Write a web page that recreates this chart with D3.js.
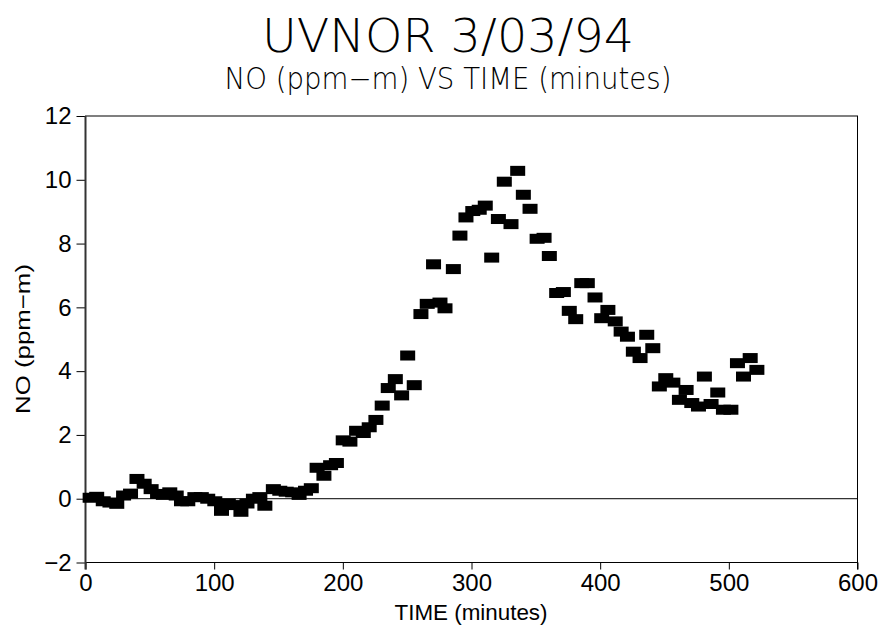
<!DOCTYPE html>
<html>
<head>
<meta charset="utf-8">
<script src="https://cdn.jsdelivr.net/npm/d3@7"></script>
<style>
    body { margin: 0; background: #fff; }
    text { font-family: "DejaVu Sans", sans-serif; fill: #000; }
    .tick text { font-family: "Liberation Sans", Arial, sans-serif; }
    .axis-title { font-family: "Liberation Sans", Arial, sans-serif; }
</style>
</head>
<body>
<div id="chart"></div>
<script>
// time in minutes and NO in ppm-m
var times = [3.6, 8.7, 13.8, 19, 24.3, 29.6, 35, 40, 45.6, 51, 56, 60.5, 65.5, 70.5, 74.6, 79.5,
    85, 90, 95, 100.5, 105.7, 111, 116, 120.8, 125.5, 130.5, 135.5, 139.4, 146, 151, 156, 161,
    166, 171, 175.5, 180, 185.3, 190.5, 195, 200.3, 205.5, 210.7, 215.9, 220.5, 225.7, 230.6,
    235.3, 240.8, 245.7, 250.4, 255.5, 260.7, 265.6, 270.5, 275.5, 279.4, 285.9, 291, 295.7,
    301, 306, 310.7, 315.7, 320.9, 325.5, 330.7, 335.9, 340.3, 345.5, 351, 356.4, 360.5, 366.2,
    371.4, 376, 381, 385.7, 390, 396, 401.2, 406, 411.7, 416.3, 421.2, 425.8, 431, 436.2, 440.9,
    446, 451, 456.5, 461.6, 466.8, 471.2, 476.4, 481, 486.2, 491.4, 495.8, 501.6, 506.7, 511.4,
    516.6, 521.8];
var noValues = [0.03, 0.06, -0.08, -0.12, -0.16, 0.1, 0.16, 0.62, 0.47, 0.3, 0.15, 0.12, 0.2, 0.1,
    -0.08, -0.08, 0.05, 0.05, 0.0, -0.08, -0.38, -0.15, -0.2, -0.41, -0.15, 0.0, 0.05, -0.22, 0.3,
    0.25, 0.22, 0.2, 0.12, 0.25, 0.33, 0.97, 0.72, 1.05, 1.12, 1.83, 1.79, 2.13, 2.06, 2.24, 2.47,
    2.92, 3.47, 3.75, 3.24, 4.49, 3.56, 5.79, 6.11, 7.35, 6.15, 5.97, 7.2, 8.25, 8.82, 9.02, 9.06,
    9.19, 7.56, 8.77, 9.94, 8.61, 10.28, 9.53, 9.09, 8.15, 8.18, 7.61, 6.45, 6.48, 5.89, 5.63, 6.76,
    6.76, 6.31, 5.66, 5.92, 5.56, 5.24, 5.08, 4.61, 4.41, 5.14, 4.72, 3.52, 3.78, 3.64, 3.1, 3.41,
    3.0, 2.89, 3.83, 2.97, 3.33, 2.79, 2.79, 4.25, 3.83, 4.41, 4.04];

var xTicks = [0, 100, 200, 300, 400, 500, 600];
var yTicks = [-2, 0, 2, 4, 6, 8, 10, 12];

var chartTitle = "UVNOR 3/03/94";
var chartSubtitle = "NO (ppm\u2212m) VS TIME (minutes)";
var xTitle = "TIME (minutes)";
var yTitle = "NO (ppm\u2212m)";

var margin = {top: 116, right: 27.5, bottom: 68.5, left: 85.5};
var width = 885 - margin.left - margin.right;
var height = 631 - margin.top - margin.bottom;

var svg = d3.select("#chart")
    .append("svg")
    .attr("width", 885)
    .attr("height", 631);

var g = svg.append("g")
    .attr("transform", "translate(" + margin.left + "," + margin.top + ")");

var x = d3.scaleLinear().domain([0, 600]).range([0, width]);
var y = d3.scaleLinear().domain([-2, 12]).range([height, 0]);

// frame
g.append("rect")
    .attr("x", 0).attr("y", 0)
    .attr("width", width).attr("height", height)
    .attr("fill", "none")
    .attr("stroke", "#000")
    .attr("stroke-width", 1);

// zero line
g.append("line")
    .attr("x1", 0).attr("x2", width)
    .attr("y1", y(0)).attr("y2", y(0))
    .attr("stroke", "#000")
    .attr("stroke-width", 1);

var xAxis = g.append("g")
    .attr("transform", "translate(0," + height + ")")
    .call(d3.axisBottom(x).tickValues(xTicks).tickSize(7).tickPadding(4).tickFormat(d3.format("d")));

var yAxis = g.append("g")
    .call(d3.axisLeft(y).tickValues(yTicks).tickSize(9).tickPadding(5).tickFormat(function (d) {
        return d < 0 ? "\u2212" + Math.abs(d) : d;
    }));

[xAxis, yAxis].forEach(function (ax) {
    ax.select(".domain").remove();
    ax.selectAll(".tick line").attr("stroke", "#000");
    ax.selectAll(".tick text").style("font-size", "24px").attr("fill", "#000");
});

// left axis line is drawn a bit heavier
g.append("line")
    .attr("x1", 0).attr("x2", 0)
    .attr("y1", 0).attr("y2", height + 7)
    .attr("stroke", "#333")
    .attr("stroke-width", 2);
g.append("line")
    .attr("x1", width).attr("x2", width)
    .attr("y1", height).attr("y2", height + 7)
    .attr("stroke", "#000");

// data markers
var pts = times.map(function (t, i) { return {t: t, v: noValues[i]}; });
g.append("g")
    .selectAll("rect")
    .data(pts)
    .enter()
    .append("rect")
    .attr("x", function (d) { return x(d.t) - 7.5; })
    .attr("y", function (d) { return y(d.v) - 5; })
    .attr("width", 15)
    .attr("height", 10)
    .attr("fill", "#000");

// titles
svg.append("text")
    .attr("x", 448).attr("y", 52)
    .attr("text-anchor", "middle")
    .attr("textLength", 372)
    .attr("lengthAdjust", "spacingAndGlyphs")
    .style("font-size", "46px")
    .style("font-weight", 200)
    .text(chartTitle);

svg.append("text")
    .attr("x", 448).attr("y", 89)
    .attr("text-anchor", "middle")
    .attr("textLength", 447)
    .attr("lengthAdjust", "spacingAndGlyphs")
    .style("font-size", "30px")
    .style("font-weight", 200)
    .text(chartSubtitle);

svg.append("text")
    .attr("class", "axis-title")
    .attr("x", 471).attr("y", 620)
    .attr("text-anchor", "middle")
    .attr("textLength", 153)
    .attr("lengthAdjust", "spacingAndGlyphs")
    .style("font-size", "22px")
    .text(xTitle);

svg.append("text")
    .attr("class", "axis-title")
    .attr("transform", "translate(30,339) rotate(-90)")
    .attr("text-anchor", "middle")
    .attr("textLength", 150)
    .attr("lengthAdjust", "spacingAndGlyphs")
    .style("font-size", "21px")
    .text(yTitle);
</script>
</body>
</html>
